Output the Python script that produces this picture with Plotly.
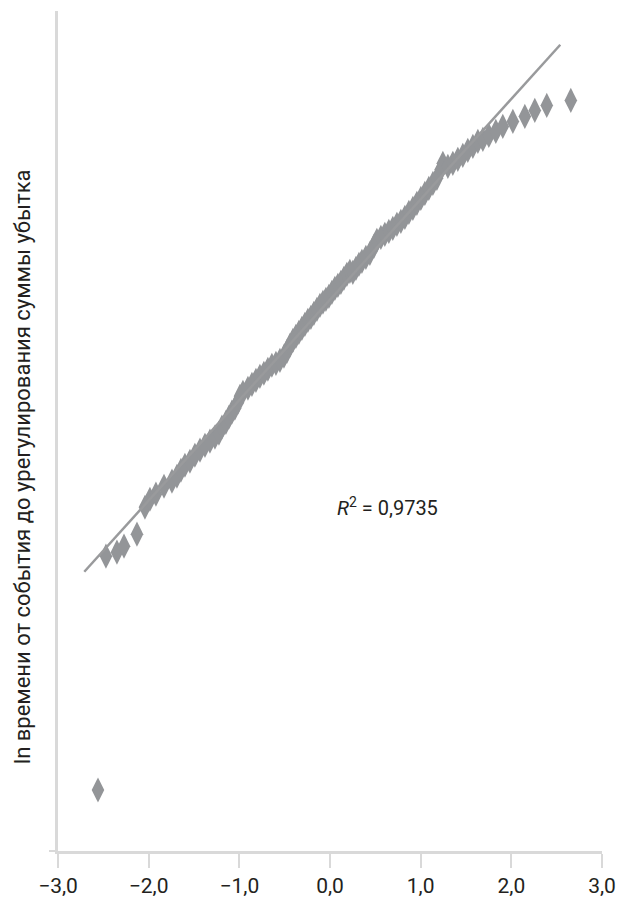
import plotly.graph_objects as go

# Theoretical normal quantiles (x) vs. ln of time from loss event to claim settlement (y)
normal_quantiles = [
    -2.559, -2.471, -2.350, -2.272, -2.129, -2.041, -1.986, -1.920, -1.831, -1.743,
    -1.688, -1.644, -1.600, -1.545, -1.490, -1.434, -1.379, -1.324, -1.269, -1.225,
    -1.192, -1.148, -1.115, -1.082, -1.049, -1.015, -0.993, -0.960, -0.905, -0.861,
    -0.817, -0.773, -0.729, -0.685, -0.641, -0.596, -0.552, -0.508, -0.475, -0.442,
    -0.409, -0.376, -0.343, -0.310, -0.277, -0.244, -0.211, -0.178, -0.144, -0.111,
    -0.078, -0.045, -0.012, 0.021, 0.054, 0.087, 0.120, 0.153, 0.186, 0.219,
    0.252, 0.286, 0.319, 0.352, 0.396, 0.440, 0.484, 0.517, 0.561, 0.605,
    0.649, 0.693, 0.738, 0.782, 0.826, 0.870, 0.914, 0.958, 1.002, 1.046,
    1.090, 1.135, 1.179, 1.223, 1.245, 1.300, 1.355, 1.410, 1.465, 1.520,
    1.576, 1.631, 1.686, 1.752, 1.829, 1.906, 2.017, 2.149, 2.259, 2.391,
    2.656,
]
ln_settlement_time = [
    0.581, 2.808, 2.846, 2.903, 3.017, 3.274, 3.350, 3.398, 3.474, 3.522,
    3.569, 3.626, 3.674, 3.712, 3.769, 3.817, 3.864, 3.903, 3.941, 3.979,
    4.036, 4.083, 4.131, 4.179, 4.217, 4.274, 4.331, 4.369, 4.407, 4.445,
    4.483, 4.521, 4.550, 4.588, 4.626, 4.645, 4.673, 4.712, 4.759, 4.816,
    4.864, 4.902, 4.940, 4.978, 5.016, 5.054, 5.083, 5.121, 5.159, 5.197,
    5.226, 5.254, 5.283, 5.321, 5.359, 5.387, 5.416, 5.454, 5.492, 5.521,
    5.511, 5.549, 5.587, 5.616, 5.654, 5.692, 5.759, 5.816, 5.844, 5.873,
    5.901, 5.930, 5.968, 5.997, 6.035, 6.082, 6.120, 6.168, 6.215, 6.263,
    6.311, 6.358, 6.406, 6.492, 6.549, 6.520, 6.549, 6.587, 6.625, 6.672,
    6.710, 6.758, 6.777, 6.815, 6.853, 6.901, 6.948, 6.996, 7.053, 7.101,
    7.148,
]

# Linear trend line
trend_slope = 0.956
trend_intercept = 5.250
trend_x_range = [-2.71, 2.54]
r_squared_label = "0,9735"

x_ticks = [-3, -2, -1, 0, 1, 2, 3]
y_title = "ln времени от события до урегулирования суммы убытка"

point_color = "#939598"
axis_color = "#d9d9d9"
text_color = "#231f20"
font_family = "Roboto, 'Noto Sans', sans-serif"

trend_y = [trend_slope * x + trend_intercept for x in trend_x_range]

fig = go.Figure()
fig.add_trace(go.Scatter(
    x=normal_quantiles, y=ln_settlement_time, mode="markers",
    marker=dict(symbol="diamond-tall", size=18, color=point_color, line=dict(width=0)),
    hoverinfo="x+y", showlegend=False,
))
fig.add_trace(go.Scatter(
    x=trend_x_range, y=trend_y, mode="lines",
    line=dict(color="#999a9c", width=2.5),
    hoverinfo="skip", showlegend=False,
))

fig.add_annotation(
    x=0.638, y=3.28, xref="x", yref="y",
    text=f"<i>R</i><sup>2</sup> = {r_squared_label}",
    showarrow=False, xanchor="center", yanchor="middle",
    font=dict(family=font_family, size=20, color=text_color),
)
fig.add_annotation(
    x=-0.066, y=0.457, xref="paper", yref="paper",
    text=y_title, textangle=-90, showarrow=False,
    xanchor="center", yanchor="middle",
    font=dict(family=font_family, size=22, color=text_color),
)

fig.update_layout(
    width=627, height=898,
    margin=dict(l=58, r=25, t=11, b=47, autoexpand=False),
    paper_bgcolor="white", plot_bgcolor="white",
    separators=", ",
    font=dict(family=font_family, color=text_color),
    showlegend=False,
)
fig.update_xaxes(
    range=[-3, 3], tickvals=x_ticks, tickformat=".1f",
    showgrid=False, zeroline=False, automargin=False,
    showline=True, linecolor=axis_color, linewidth=2.5,
    ticks="outside", ticklen=14, tickwidth=2, tickcolor=axis_color,
    tickfont=dict(family=font_family, size=21, color=text_color),
)
fig.update_yaxes(
    range=[0, 8], tickvals=[0], showticklabels=False,
    showgrid=False, zeroline=False, automargin=False,
    showline=True, linecolor=axis_color, linewidth=2.5,
    ticks="outside", ticklen=6, tickwidth=2, tickcolor=axis_color,
)

fig.write_html("out.html")
